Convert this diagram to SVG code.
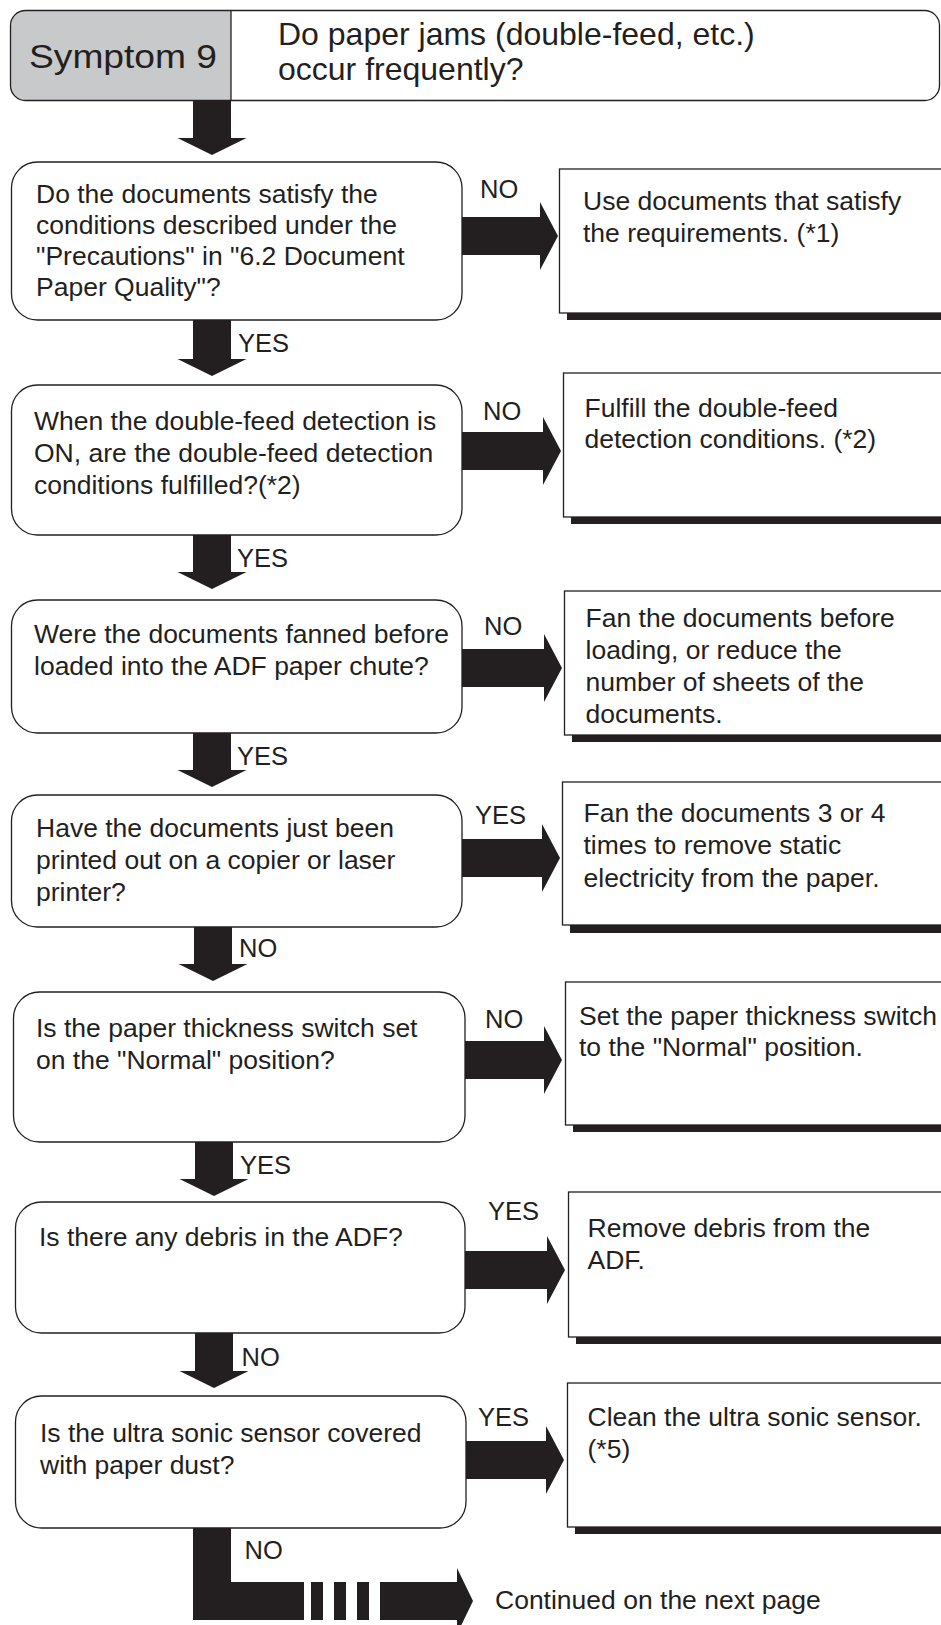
<svg xmlns="http://www.w3.org/2000/svg" width="941" height="1625" viewBox="0 0 941 1625">
<style>
.t{font-family:"Liberation Sans",Arial,sans-serif;font-size:26.5px;fill:#231f20}
.h{font-size:32px}
.l{font-size:25.5px}
.dec{fill:#fff;stroke:#231f20;stroke-width:1.3}
.act{fill:#fff;stroke:#231f20;stroke-width:1.3}
.sh{fill:#231f20}
.arr{fill:#231f20}
</style>
<rect width="941" height="1625" fill="#fff"/>
<g id="header">
<path d="M25.5 10.5 H231 V100.5 H25.5 A15 15 0 0 1 10.5 85.5 V25.5 A15 15 0 0 1 25.5 10.5 Z" fill="#c8c9cb"/>
<rect x="10.5" y="10.5" width="929" height="90" rx="15" fill="none" stroke="#231f20" stroke-width="1.3"/>
<line x1="231" y1="10.5" x2="231" y2="100.5" stroke="#231f20" stroke-width="1.3"/>
<text class="t" style="font-size:34px" x="29" y="68" textLength="188" lengthAdjust="spacingAndGlyphs">Symptom 9</text>
<text class="t h" x="278" y="45">Do paper jams (double-feed, etc.)</text>
<text class="t h" x="278" y="80">occur frequently?</text>
</g>
<g id="connectors">
<path class="arr" d="M193 100 H231 V138 H246.5 L212 155 L177.5 138 H193 Z"/>
<path class="arr" d="M193 320 H231 V359 H246.5 L212 376 L177.5 359 H193 Z"/>
<path class="arr" d="M193 535 H231 V572 H246.5 L212 589 L177.5 572 H193 Z"/>
<path class="arr" d="M193 733 H231 V770 H246.5 L212 787 L177.5 770 H193 Z"/>
<path class="arr" d="M194 927 H232 V964 H247.5 L213 981 L178.5 964 H194 Z"/>
<path class="arr" d="M195 1142 H233 V1179 H248.5 L214 1196 L179.5 1179 H195 Z"/>
<path class="arr" d="M195 1333 H233 V1371 H248.5 L214 1388 L179.5 1371 H195 Z"/>
<path class="arr" d="M462 217 H540 V202 L558 236 L540 270 V255 H462 Z"/>
<path class="arr" d="M462 432 H543 V417 L561 451 L543 485 V470 H462 Z"/>
<path class="arr" d="M462 649 H544 V634 L562 668 L544 702 V687 H462 Z"/>
<path class="arr" d="M462 839 H542 V824 L560 858 L542 892 V877 H462 Z"/>
<path class="arr" d="M465 1041 H544 V1026 L562 1060 L544 1094 V1079 H465 Z"/>
<path class="arr" d="M465 1251 H547 V1236 L565 1270 L547 1304 V1289 H465 Z"/>
<path class="arr" d="M466 1441 H546 V1426 L564 1460 L546 1494 V1479 H466 Z"/>
<path class="arr" d="M193 1528 H231 V1582 H304 V1620 H193 Z"/>
<rect class="arr" x="311" y="1582" width="12" height="38"/>
<rect class="arr" x="334" y="1582" width="12" height="38"/>
<rect class="arr" x="357" y="1582" width="12" height="38"/>
<path class="arr" d="M380 1582 H457 V1568 L473 1601 L457 1634 V1620 H380 Z"/>
<text class="t l" x="480" y="198">NO</text>
<text class="t l" x="483" y="419.5">NO</text>
<text class="t l" x="484" y="634.5">NO</text>
<text class="t l" x="475" y="824">YES</text>
<text class="t l" x="485" y="1027.5">NO</text>
<text class="t l" x="488" y="1219.5">YES</text>
<text class="t l" x="478" y="1425.5">YES</text>
<text class="t l" x="238" y="351.5">YES</text>
<text class="t l" x="237" y="567">YES</text>
<text class="t l" x="237" y="765">YES</text>
<text class="t l" x="239" y="956.5">NO</text>
<text class="t l" x="240" y="1173.5">YES</text>
<text class="t l" x="241.5" y="1366">NO</text>
<text class="t l" x="244.5" y="1558.5">NO</text>
<text class="t" x="495" y="1609">Continued on the next page</text>
</g>
<g id="q1">
<rect class="dec" x="11.5" y="162" width="450.5" height="158" rx="26"/>
<text class="t" x="36" y="203">Do the documents satisfy the</text>
<text class="t" x="36" y="234">conditions described under the</text>
<text class="t" x="36" y="265">"Precautions" in "6.2 Document</text>
<text class="t" x="36" y="296">Paper Quality"?</text>
</g>
<g id="a1">
<rect class="sh" x="567" y="176" width="380" height="144"/>
<rect class="act" x="559.5" y="169" width="390" height="144"/>
<text class="t" x="583" y="209.5">Use documents that satisfy</text>
<text class="t" x="583" y="241.5">the requirements. (*1)</text>
</g>
<g id="q2">
<rect class="dec" x="11.5" y="385" width="450.5" height="150" rx="26"/>
<text class="t" x="34" y="429.5">When the double-feed detection is</text>
<text class="t" x="34" y="461.5">ON, are the double-feed detection</text>
<text class="t" x="34" y="493.5">conditions fulfilled?(*2)</text>
</g>
<g id="a2">
<rect class="sh" x="571" y="380" width="380" height="144"/>
<rect class="act" x="563.5" y="373" width="390" height="144"/>
<text class="t" x="584.5" y="416.5">Fulfill the double-feed</text>
<text class="t" x="584.5" y="447.5">detection conditions. (*2)</text>
</g>
<g id="q3">
<rect class="dec" x="11.5" y="600" width="450.5" height="133" rx="26"/>
<text class="t" x="34" y="642.5">Were the documents fanned before</text>
<text class="t" x="34" y="674.5">loaded into the ADF paper chute?</text>
</g>
<g id="a3">
<rect class="sh" x="572" y="598" width="380" height="144"/>
<rect class="act" x="564.5" y="591" width="390" height="144"/>
<text class="t" x="585.5" y="627">Fan the documents before</text>
<text class="t" x="585.5" y="659">loading, or reduce the</text>
<text class="t" x="585.5" y="690.5">number of sheets of the</text>
<text class="t" x="585.5" y="722.5">documents.</text>
</g>
<g id="q4">
<rect class="dec" x="11.5" y="795" width="450.5" height="132" rx="26"/>
<text class="t" x="36" y="836.5">Have the documents just been</text>
<text class="t" x="36" y="868.5">printed out on a copier or laser</text>
<text class="t" x="36" y="900.5">printer?</text>
</g>
<g id="a4">
<rect class="sh" x="570" y="789" width="380" height="144"/>
<rect class="act" x="562.5" y="782" width="390" height="143"/>
<text class="t" x="583.5" y="822">Fan the documents 3 or 4</text>
<text class="t" x="583.5" y="854">times to remove static</text>
<text class="t" x="583.5" y="886.5">electricity from the paper.</text>
</g>
<g id="q5">
<rect class="dec" x="13.5" y="992" width="451.5" height="150" rx="26"/>
<text class="t" x="36" y="1036.5">Is the paper thickness switch set</text>
<text class="t" x="36" y="1068.5">on the "Normal" position?</text>
</g>
<g id="a5">
<rect class="sh" x="573" y="989" width="380" height="143"/>
<rect class="act" x="565.5" y="982" width="390" height="143"/>
<text class="t" x="579" y="1025">Set the paper thickness switch</text>
<text class="t" x="579" y="1056">to the "Normal" position.</text>
</g>
<g id="q6">
<rect class="dec" x="15.5" y="1202" width="449.5" height="131" rx="26"/>
<text class="t" x="39" y="1245.5">Is there any debris in the ADF?</text>
</g>
<g id="a6">
<rect class="sh" x="576" y="1199" width="380" height="145"/>
<rect class="act" x="568.5" y="1192" width="390" height="145"/>
<text class="t" x="587.5" y="1236.5">Remove debris from the</text>
<text class="t" x="587.5" y="1268.5">ADF.</text>
</g>
<g id="q7">
<rect class="dec" x="15.5" y="1396" width="450.5" height="132" rx="26"/>
<text class="t" x="40" y="1441.5">Is the ultra sonic sensor covered</text>
<text class="t" x="40" y="1473.5">with paper dust?</text>
</g>
<g id="a7">
<rect class="sh" x="575" y="1390" width="380" height="144"/>
<rect class="act" x="567.5" y="1383" width="390" height="144"/>
<text class="t" x="587.5" y="1426">Clean the ultra sonic sensor.</text>
<text class="t" x="587.5" y="1458">(*5)</text>
</g>
</svg>
